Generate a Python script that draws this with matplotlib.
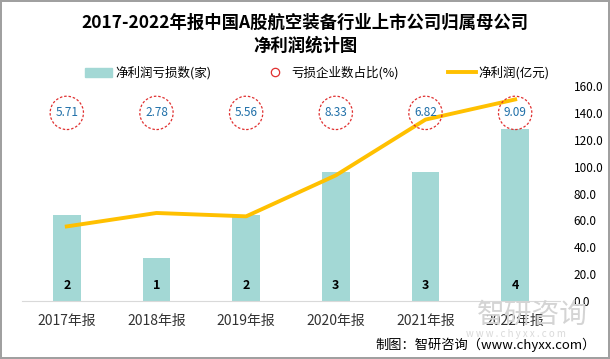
import matplotlib.pyplot as plt
import numpy as np
from matplotlib.lines import Line2D
from matplotlib.patches import Patch

plt.rcParams['font.family'] = ['Noto Sans CJK SC', 'DejaVu Sans']

years = ['2017年报', '2018年报', '2019年报', '2020年报', '2021年报', '2022年报']
loss_count = [2, 1, 2, 3, 3, 4]
loss_ratio = [5.71, 2.78, 5.56, 8.33, 6.82, 9.09]
net_profit = [55.5, 65.5, 63.0, 93.5, 135.0, 150.0]

fig = plt.figure(figsize=(6.1, 3.59), dpi=100)
fig.patch.set_edgecolor('#a0a0a0')
fig.patch.set_linewidth(1.5)

ax = fig.add_axes([0.036, 0.1616, 0.882, 0.5988])
x = np.arange(len(years))

# bars on hidden left axis (0-5)
ax.bar(x, loss_count, width=0.31, color='#a3d8d5')
ax.set_ylim(0, 5)
ax.set_xlim(-0.5, len(years) - 0.5)
for xi, v in zip(x, loss_count):
    ax.text(xi, 0.35, str(v), ha='center', va='center', fontsize=9, fontweight='bold')
ax.set_yticks([])
for s in ['left', 'right', 'top']:
    ax.spines[s].set_visible(False)
ax.spines['bottom'].set_color('#d9d9d9')
ax.set_xticks(x)
ax.set_xticklabels(years, fontsize=10, color='#333333')
ax.tick_params(axis='x', length=0, pad=9)

# right axis: net profit + ratio circles
ax2 = ax.twinx()
ax2.set_ylim(0, 160)
ax2.set_yticks(np.arange(0, 161, 20))
ax2.set_yticklabels([f'{v:.1f}' for v in np.arange(0, 161, 20)], fontsize=8.5)
ax2.tick_params(axis='y', length=0, pad=10)
for s in ['left', 'right', 'top', 'bottom']:
    ax2.spines[s].set_visible(False)

ax2.plot(x, net_profit, color='#ffc000', lw=2.8)
ax2.scatter(x, [140] * len(x), s=24 ** 2, facecolors='none', edgecolors='#e03030',
            linestyles=(0, (2, 1.5)), linewidths=0.9, zorder=3)
for xi, v in zip(x, loss_ratio):
    ax2.text(xi, 140, f'{v:.2f}', ha='center', va='center', fontsize=8.5, color='#1f6fa8', zorder=4)

# legend
handles = [Patch(color='#a3d8d5'),
           Line2D([], [], marker='o', ls='none', markerfacecolor='none', markeredgecolor='#e03030',
                  markersize=6, markeredgewidth=0.9),
           Line2D([], [], color='#ffc000', lw=2.8)]
labels = ['净利润亏损数(家)', '亏损企业数占比(%)', '净利润(亿元)']
fig.legend(handles, labels, loc='center', bbox_to_anchor=(0.52, 0.797), ncol=3, frameon=False,
           fontsize=9, columnspacing=4.0, handlelength=2.2, handletextpad=0.2)

fig.text(0.5, 0.905, '2017-2022年报中国A股航空装备行业上市公司归属母公司\n净利润统计图',
         ha='center', va='center', fontsize=12.5, fontweight='bold', linespacing=1.3)

# watermark and source
fig.text(0.872, 0.122, '智研咨询', ha='center', va='center', fontsize=20, color='#d4d4d4', zorder=0)
fig.text(0.845, 0.070, 'w w w . c h y x x . c o m', ha='center', va='center', fontsize=7, color='#dadada')
fig.text(0.976, 0.039, '制图：智研咨询（www.chyxx.com）', ha='right', va='center', fontsize=9.5)

fig.savefig('out.png', dpi=100)
